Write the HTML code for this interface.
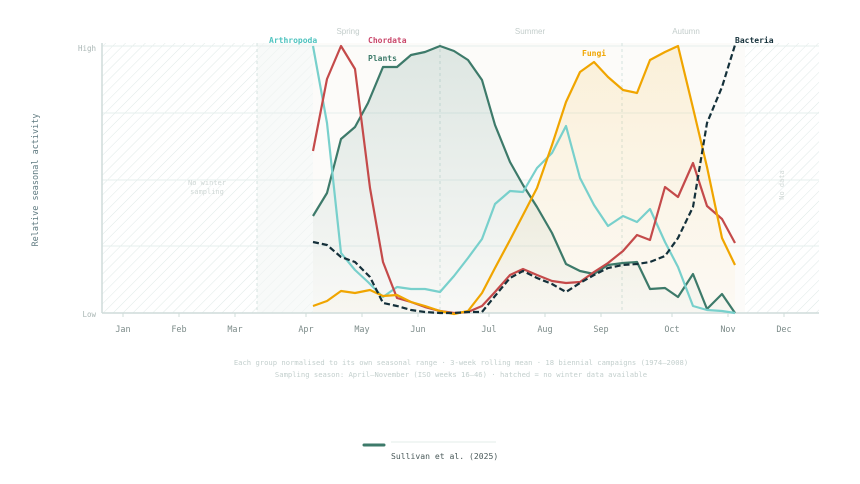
<!DOCTYPE html>
<html><head><meta charset="utf-8"><style>
html,body{margin:0;padding:0;background:#fff;}
svg text{font-family:"DejaVu Sans Mono","Liberation Mono",monospace;}
</style></head><body>
<svg width="860" height="479" viewBox="0 0 860 479" xmlns="http://www.w3.org/2000/svg">
<defs>
<pattern id="h" patternUnits="userSpaceOnUse" width="7" height="7" patternTransform="rotate(45)">
<line x1="0" y1="0" x2="0" y2="7" stroke="#dfe9e7" stroke-width="1"/>
</pattern>
<linearGradient id="gp" x1="0" y1="0" x2="0" y2="1">
<stop offset="0" stop-color="#3d7a6a" stop-opacity="0.16"/><stop offset="1" stop-color="#3d7a6a" stop-opacity="0.02"/>
</linearGradient>
<linearGradient id="gf" x1="0" y1="0" x2="0" y2="1">
<stop offset="0" stop-color="#f0a500" stop-opacity="0.13"/><stop offset="1" stop-color="#f0a500" stop-opacity="0.02"/>
</linearGradient>
</defs>
<rect x="102" y="43" width="211" height="270" fill="url(#h)"/>
<rect x="257" y="43" width="56" height="270" fill="#f3f6f5" opacity="0.6"/>
<rect x="745" y="43" width="74" height="270" fill="url(#h)"/>
<rect x="313" y="43" width="432" height="270" fill="#fbfaf6" opacity="0.7"/>
<g stroke="#e6efed" stroke-width="1">
<line x1="102" y1="46" x2="819" y2="46"/><line x1="102" y1="113" x2="819" y2="113"/>
<line x1="102" y1="180" x2="819" y2="180"/><line x1="102" y1="246" x2="819" y2="246"/>
</g>
<g stroke="#d5e3e0" stroke-dasharray="3,3"><line x1="257" y1="43" x2="257" y2="313"/><line x1="440" y1="43" x2="440" y2="313"/><line x1="622" y1="43" x2="622" y2="313"/></g>
<path d="M313,216 L327,193 341,139 355,127 368,103 383,67 397,67 411,55 425,52 440,46 454,51 468,60 482,80 495,125 510,162 523,185 537,207 552,233 566,264 580,271 594,274 608,265 623,263 637,262 650,289 665,288 678,297 693,274 707,309 722,294 735,313 L313,313 Z" fill="url(#gp)"/>
<path d="M313,306 L327,301 341,291 355,293 370,290 383,296 397,295 411,302 425,306 440,311 454,314 468,311 482,293 495,268 510,240 523,215 537,188 552,145 566,102 580,72 594,62 608,77 623,90 637,93 650,60 665,52 678,46 693,108 707,167 722,238 735,265 L735,313 313,313 Z" fill="url(#gf)"/>
<line x1="102" y1="43" x2="102" y2="313" stroke="#cfdcda" stroke-width="1.5"/>
<line x1="102" y1="313" x2="819" y2="313" stroke="#cfdcda" stroke-width="1.5"/>
<g fill="none" stroke-width="2.2" stroke-linejoin="round">
<polyline stroke="#3d7a6a" points="313,216 327,193 341,139 355,127 368,103 383,67 397,67 411,55 425,52 440,46 454,51 468,60 482,80 495,125 510,162 523,185 537,207 552,233 566,264 580,271 594,274 608,265 623,263 637,262 650,289 665,288 678,297 693,274 707,309 722,294 735,313"/>
<polyline stroke="#78d0cc" points="313,46 327,123 341,253 355,270 368,282 383,297 397,287 411,289 425,289 440,292 454,276 468,258 482,239 495,204 510,191 523,192 537,168 552,153 566,126 580,178 594,205 608,226 623,216 637,222 650,209 665,242 678,267 693,306 707,310 722,311 735,313"/>
<polyline stroke="#c44a4a" points="313,151 327,79 341,46 355,69 370,188 383,262 397,298 411,302 425,307 440,311 454,313 468,312 482,306 495,292 510,275 523,269 537,275 552,281 566,283 580,282 594,272 608,263 623,251 637,235 650,240 665,187 678,197 693,163 707,206 722,219 735,243"/>
<polyline stroke="#f0a500" points="313,306 327,301 341,291 355,293 370,290 383,296 397,295 411,302 425,306 440,311 454,314 468,311 482,293 495,268 510,240 523,215 537,188 552,145 566,102 580,72 594,62 608,77 623,90 637,93 650,60 665,52 678,46 693,108 707,167 722,238 735,265"/>
<polyline stroke="#14303a" stroke-dasharray="6,3" points="313,242 327,245 341,257 355,262 370,277 383,303 397,306 411,310 425,312 440,313 454,313 468,312 482,312 495,296 510,278 523,271 537,278 552,284 566,292 580,283 594,275 608,268 623,265 637,264 650,262 665,256 678,238 693,207 707,123 722,87 735,45"/>
</g>
<g font-size="8" font-weight="bold">
<text x="269" y="43" fill="#4ec3bf">Arthropoda</text>
<text x="368" y="43" fill="#c9476a">Chordata</text>
<text x="368" y="61" fill="#3d7a6a">Plants</text>
<text x="582" y="56" fill="#f0a500">Fungi</text>
<text x="735" y="43" fill="#14303a">Bacteria</text>
</g>
<g font-size="8" fill="#c3cdcb" text-anchor="middle">
<text x="348" y="34" style="font-family:'Liberation Sans',sans-serif">Spring</text>
<text x="530" y="34" style="font-family:'Liberation Sans',sans-serif">Summer</text>
<text x="686" y="34" style="font-family:'Liberation Sans',sans-serif">Autumn</text>
</g>
<g font-size="7" fill="#d0d8d6" text-anchor="middle"><text x="207" y="185">No winter</text><text x="207" y="194">sampling</text>
<text transform="translate(784,185) rotate(-90)">No data</text></g>
<g font-size="7.5" fill="#a9b6b4" text-anchor="end"><text x="96" y="51">High</text><text x="96" y="317">Low</text></g>
<g font-size="8.5" fill="#7d8c8a" text-anchor="middle">
<text x="123" y="332">Jan</text><text x="179" y="332">Feb</text><text x="235" y="332">Mar</text><text x="306" y="332">Apr</text><text x="362" y="332">May</text><text x="418" y="332">Jun</text><text x="489" y="332">Jul</text><text x="545" y="332">Aug</text><text x="601" y="332">Sep</text><text x="672" y="332">Oct</text><text x="728" y="332">Nov</text><text x="784" y="332">Dec</text>
</g>
<g stroke="#cfdcda"><line x1="123" y1="313" x2="123" y2="317"/><line x1="179" y1="313" x2="179" y2="317"/><line x1="235" y1="313" x2="235" y2="317"/><line x1="306" y1="313" x2="306" y2="317"/><line x1="362" y1="313" x2="362" y2="317"/><line x1="418" y1="313" x2="418" y2="317"/><line x1="489" y1="313" x2="489" y2="317"/><line x1="545" y1="313" x2="545" y2="317"/><line x1="601" y1="313" x2="601" y2="317"/><line x1="672" y1="313" x2="672" y2="317"/><line x1="728" y1="313" x2="728" y2="317"/><line x1="784" y1="313" x2="784" y2="317"/></g>
<text transform="translate(38,180) rotate(-90)" font-size="8.5" fill="#5f7a80" text-anchor="middle">Relative seasonal activity</text>
<g font-size="7.2" fill="#c3cfcd" text-anchor="middle"><text x="461" y="365">Each group normalised to its own seasonal range · 3-week rolling mean · 18 biennial campaigns (1974–2008)</text>
<text x="461" y="377">Sampling season: April–November (ISO weeks 16–46) · hatched = no winter data available</text></g>
<line x1="364" y1="445" x2="384" y2="445" stroke="#3d7a6a" stroke-width="3" stroke-linecap="round"/>
<line x1="391" y1="442" x2="496" y2="442" stroke="#e3ecea" stroke-width="1"/>
<text x="391" y="459" font-size="8.1" fill="#4a5a5a">Sullivan et al. (2025)</text>
</svg>
</body></html>
